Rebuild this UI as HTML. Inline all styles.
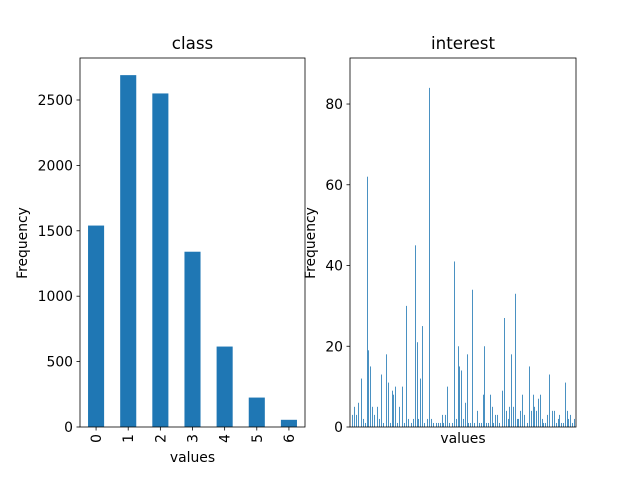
<!DOCTYPE html>
<html><head><meta charset="utf-8"><style>
body{margin:0;background:#fff;font-family:"Liberation Sans","DejaVu Sans",sans-serif}
svg text{font-family:"DejaVu Sans","Liberation Sans",sans-serif;fill:#000}
</style></head><body>
<svg id="c" width="640" height="480"></svg>
<script>
const classCats=["0","1","2","3","4","5","6"];
const classVals=[1540,2690,2550,1340,615,225,55];
const classTicks=[0,500,1000,1500,2000,2500];
const interestPos=[2,4,6,8,11,13,15,17,18,20,22,24,27,29,31,33,36,38,40,42,43,45,47,49,52,54,56,58,61,63,65,67,68,70,72,74,77,79,81,83,86,88,90,92,93,95,97,99,102,104,106,108,109,111,113,115,117,118,120,122,124,127,129,131,133,134,136,138,140,142,143,145,147,149,152,154,156,158,159,161,163,165,167,168,170,172,174,177,179,181,183,184,186,188,190,192,193,195,197,199,202,204,206,208,209,211,213,215,217,218,220,222,224];
const interestVals=[3,5,3,6,12,2,1,62,19,15,5,3,5,2,13,1,18,11,1,9,8,10,1,5,10,1,30,2,1,2,45,21,2,12,25,1,2,84,2,1,1,1,1,3,1,3,10,1,1,41,2,20,15,14,2,6,18,1,1,34,1,4,1,1,8,20,1,1,8,5,1,3,3,1,9,27,4,2,5,18,5,33,2,2,4,8,3,1,15,4,8,5,4,7,8,2,1,1,3,13,4,4,1,2,3,1,1,11,4,2,3,1,2];
const interestTicks=[0,20,40,60,80];
const NS="http://www.w3.org/2000/svg";
const svg=document.getElementById('c');
function mk(t,a,p){const e=document.createElementNS(NS,t);for(const k in a)e.setAttribute(k,a[k]);(p||svg).appendChild(e);return e;}
const FS=13.9;
// left
const L={x0:80,x1:305,y0:58,y1:427,max:2821};
const ly=v=>L.y1-v/L.max*(L.y1-L.y0);
const band=(L.x1-L.x0)/classCats.length;
const lx=i=>L.x0+band*(i+0.5);
classVals.forEach((v,i)=>{const r=mk('rect',{x:lx(i)-band/4,y:ly(v),width:band/2,height:L.y1-ly(v),fill:'#1f77b4'});

});
classTicks.forEach(t=>{const y=ly(t);mk('line',{x1:L.x0-3.5,x2:L.x0,y1:y,y2:y,stroke:'#000','stroke-width':0.8});
const tx=mk('text',{x:L.x0-7,y:y+5,'text-anchor':'end','font-size':FS});tx.textContent=t;

});
classCats.forEach((c,i)=>{const x=lx(i);mk('line',{x1:x,x2:x,y1:L.y1,y2:L.y1+3.5,stroke:'#000','stroke-width':0.8});
const tx=mk('text',{x:0,y:0,'text-anchor':'end','font-size':FS,transform:`translate(${x+5},${L.y1+7}) rotate(-90)`});tx.textContent=c;

});
mk('rect',{x:L.x0,y:L.y0,width:L.x1-L.x0,height:L.y1-L.y0,fill:'none',stroke:'#000','stroke-width':0.8});
// right
const R={x0:350,x1:576,y0:58,y1:427,max:91.4};
const ry=v=>R.y1-v/R.max*(R.y1-R.y0);
const rx=i=>R.x0+i+0.5;
interestVals.forEach((v,k)=>{const r=mk('rect',{x:rx(interestPos[k])-0.4,y:ry(v),width:0.8,height:R.y1-ry(v),fill:'#1f77b4'});

});
interestTicks.forEach(t=>{const y=ry(t);mk('line',{x1:R.x0-3.5,x2:R.x0,y1:y,y2:y,stroke:'#000','stroke-width':0.8});
const tx=mk('text',{x:R.x0-7,y:y+5,'text-anchor':'end','font-size':FS});tx.textContent=t;

});
mk('rect',{x:R.x0,y:R.y0,width:R.x1-R.x0,height:R.y1-R.y0,fill:'none',stroke:'#000','stroke-width':0.8});
</script>
<svg width="640" height="480" style="position:absolute;left:0;top:0">
<text x="192.5" y="49" text-anchor="middle" font-size="16.7">class</text>
<text x="463" y="49" text-anchor="middle" font-size="16.7">interest</text>
<text x="192.5" y="462" text-anchor="middle" font-size="13.9">values</text>
<text x="463" y="443" text-anchor="middle" font-size="13.9">values</text>
<text transform="translate(27,243) rotate(-90)" text-anchor="middle" font-size="13.9">Frequency</text>
<text transform="translate(315,243) rotate(-90)" text-anchor="middle" font-size="13.9">Frequency</text>
</svg>
</body></html>
